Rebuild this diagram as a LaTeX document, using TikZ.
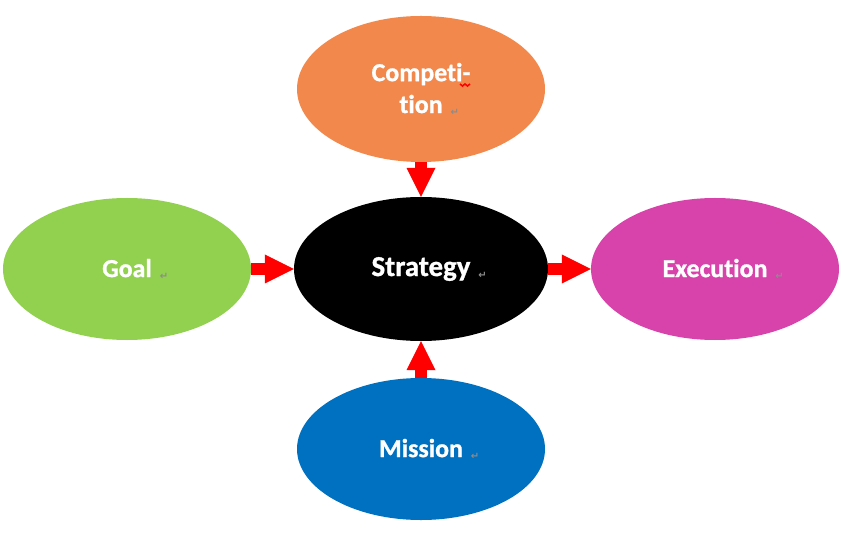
\documentclass[tikz,border=0pt]{standalone}
\usepackage{fontspec}
\setmainfont[Ligatures=NoCommon]{Carlito}
\newfontfamily\symfont{DejaVu Sans}
\usetikzlibrary{positioning, shapes.geometric, arrows.meta}

\definecolor{compcol}{HTML}{F2884B}
\definecolor{goalcol}{HTML}{92D050}
\definecolor{execcol}{HTML}{D742AB}
\definecolor{misscol}{HTML}{0070C0}
\definecolor{arrowred}{HTML}{FF0000}
\definecolor{retgray}{HTML}{8C8C8C}

\newcommand{\retmark}{\rlap{\hspace{8bp}\raisebox{-2bp}{\symfont\fontsize{10}{10}\selectfont\color{retgray}↵}}}

\begin{document}
\begin{tikzpicture}[x=1bp, y=-1bp, node distance=180bp and 294bp, on grid,
    blob/.style={ellipse, minimum width=248bp, minimum height=142bp, inner sep=0pt,
        text=white, font=\fontsize{26}{32}\selectfont\bfseries\addfontfeature{FakeBold=1}, align=center},
    push/.style={color=arrowred, line width=12bp,
        -{Triangle[length=29bp, width=29bp, line width=0pt]}}]
    \useasboundingbox (0,0) rectangle (842,538);
    \node[blob, fill=black, minimum width=254bp, minimum height=144bp,
        font=\fontsize{29}{32}\selectfont\bfseries\addfontfeature{FakeBold=1}] (strategy) at (421,269) {Strategy\retmark};
    \node[blob, fill=compcol, minimum height=146bp] (competition) [above=of strategy] {Competi-\\tion\retmark};
    \node[blob, fill=goalcol] (goal) [left=of strategy] {Goal\retmark};
    \node[blob, fill=execcol] (execution) [right=of strategy] {Execution\retmark};
    \node[blob, fill=misscol] (mission) [below=of strategy] {Mission\retmark};
    % spelling mark under the hyphen
    \draw[arrowred, line width=1.6bp] (460,84) -- ++(2.5,2) -- ++(2.5,-2) -- ++(2.5,2) -- ++(2.5,-2);
	\path[push]
	(competition) edge (strategy)
	(goal) edge (strategy)
	(strategy) edge (execution)
	(mission) edge (strategy);
\end{tikzpicture}
\end{document}
